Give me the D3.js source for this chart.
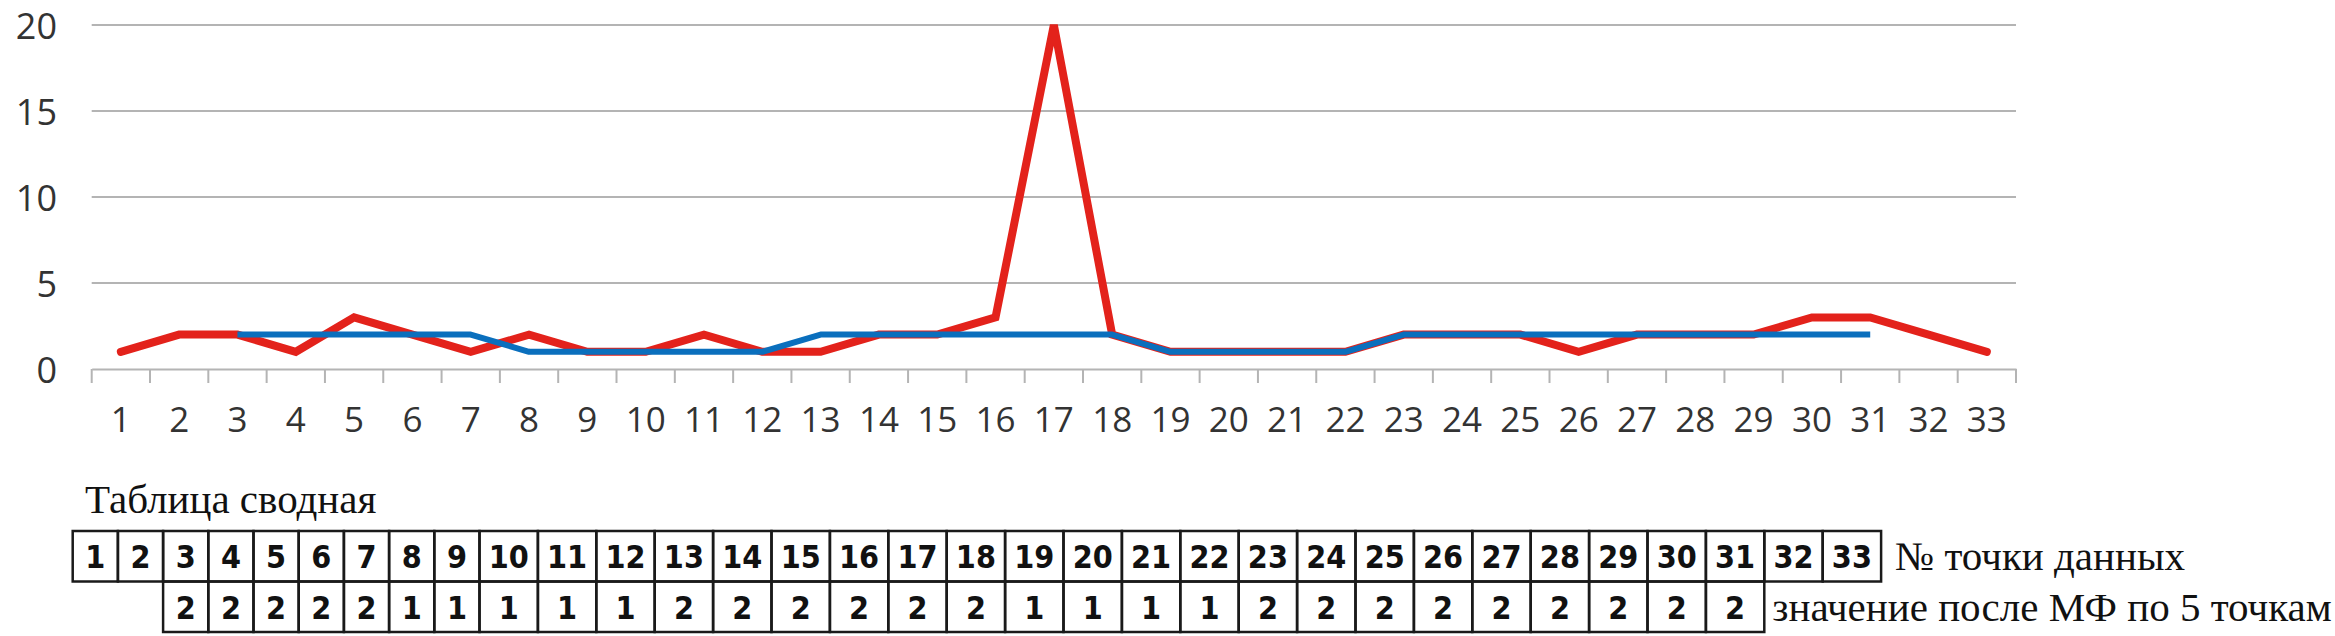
<!DOCTYPE html>
<html>
<head>
<meta charset="utf-8">
<script src="https://cdn.jsdelivr.net/npm/d3@7/dist/d3.min.js"></script>
<style>
  html, body { margin: 0; padding: 0; background: #fff; }
  svg { display: block; }
</style>
</head>
<body>
<svg id="chart" width="2335" height="636"></svg>
<script>
// ---- data ----
const categories = d3.range(1, 34).map(String); // 1..33
const rawValues = [1, 2, 2, 1, 3, 2, 1, 2, 1, 1, 2, 1, 1, 2, 2, 3, 20, 2, 1, 1, 1, 1, 2, 2, 2, 1, 2, 2, 2, 3, 3, 2, 1];
const medianStart = 3; // first data point with a median value
const medianValues = [2, 2, 2, 2, 2, 1, 1, 1, 1, 1, 2, 2, 2, 2, 2, 2, 1, 1, 1, 1, 2, 2, 2, 2, 2, 2, 2, 2, 2];
const yTicks = [0, 5, 10, 15, 20];
const tableTitle = "Таблица сводная";
const rowLabel1 = "№ точки данных";
const rowLabel2 = "значение после МФ по 5 точкам";

// ---- layout ----
const svg = d3.select("#chart");
const plot = { left: 91.7, right: 2016, top: 25, bottom: 369 };

const x = d3.scaleBand().domain(categories).range([plot.left, plot.right]).padding(0);
const y = d3.scaleLinear().domain([0, 20]).range([plot.bottom, plot.top]);

const axisFont = "'Open Sans', 'Lato', sans-serif";
const serifFont = "'Liberation Serif', 'DejaVu Serif', serif";
const tableFont = "'Liberation Sans Narrow', 'DejaVu Sans Condensed', 'Roboto', sans-serif";

// gridlines
svg.append("g")
  .selectAll("line")
  .data(yTicks.filter(d => d > 0))
  .join("line")
  .attr("x1", plot.left).attr("x2", plot.right)
  .attr("y1", d => y(d)).attr("y2", d => y(d))
  .attr("stroke", "#b4b4b4").attr("stroke-width", 2);

// y labels
svg.append("g")
  .selectAll("text")
  .data(yTicks)
  .join("text")
  .attr("x", 57).attr("y", d => y(d))
  .attr("text-anchor", "end")
  .attr("dominant-baseline", "central")
  .attr("font-family", axisFont).attr("font-size", 36)
  .attr("fill", "#333")
  .text(d => d);

// x axis
const xAxis = d3.axisBottom(x).tickSize(0).tickPadding(0);
const gx = svg.append("g").attr("transform", `translate(0,${plot.bottom})`).call(xAxis);
gx.select(".domain").attr("stroke", "#b4b4b4").attr("stroke-width", 2);
gx.selectAll(".tick text")
  .attr("font-family", axisFont).attr("font-size", 35)
  .attr("fill", "#333").attr("dy", null).attr("y", 63);
// boundary tick marks
const boundaries = categories.map(c => x(c)).concat([plot.right]);
svg.append("g")
  .selectAll("line")
  .data(boundaries)
  .join("line")
  .attr("x1", d => d).attr("x2", d => d)
  .attr("y1", plot.bottom).attr("y2", plot.bottom + 14)
  .attr("stroke", "#b4b4b4").attr("stroke-width", 2);

// lines
const line = d3.line()
  .x(d => x(d.c) + x.bandwidth() / 2)
  .y(d => y(d.v));

const rawSeries = categories.map((c, i) => ({ c, v: rawValues[i] }));
const medSeries = medianValues.map((v, i) => ({ c: categories[medianStart - 1 + i], v }));

svg.append("path")
  .datum(rawSeries)
  .attr("d", line)
  .attr("fill", "none")
  .attr("stroke", "#e3221b")
  .attr("stroke-width", 8)
  .attr("stroke-linejoin", "miter")
  .attr("stroke-linecap", "round");

svg.append("path")
  .datum(medSeries)
  .attr("d", line)
  .attr("fill", "none")
  .attr("stroke", "#0a6fbd")
  .attr("stroke-width", 6)
  .attr("stroke-linejoin", "round")
  .attr("stroke-linecap", "butt");

// ---- table ----
svg.append("text")
  .attr("x", 85).attr("y", 513)
  .attr("font-family", serifFont).attr("font-size", 41)
  .attr("fill", "#111")
  .text(tableTitle);

const tLeft = 72.7, row1Top = 531, rowH = 50.5;
const cellW = c => c.length === 1 ? 45.2 : 58.4;
let acc = tLeft;
const cells = categories.map((c, i) => {
  const w = cellW(c);
  const cell = { c, x: acc, w, med: (i + 1 >= medianStart && i + 1 < medianStart + medianValues.length) ? medianValues[i + 1 - medianStart] : null };
  acc += w;
  return cell;
});
const tRight = acc;

const tg = svg.append("g");
// row 1 cells
tg.selectAll("rect.r1")
  .data(cells)
  .join("rect")
  .attr("class", "r1")
  .attr("x", d => d.x).attr("y", row1Top)
  .attr("width", d => d.w).attr("height", rowH)
  .attr("fill", "none").attr("stroke", "#1a1a1a").attr("stroke-width", 2.5);
tg.selectAll("text.r1")
  .data(cells)
  .join("text")
  .attr("class", "r1")
  .attr("x", d => d.x + d.w / 2).attr("y", row1Top + rowH / 2 + 12)
  .attr("text-anchor", "middle")
  .attr("font-family", tableFont).attr("font-weight", "bold").attr("font-size", 32)
  .attr("fill", "#111")
  .text(d => d.c);
// row 2 cells
const medCells = cells.filter(d => d.med !== null);
tg.selectAll("rect.r2")
  .data(medCells)
  .join("rect")
  .attr("class", "r2")
  .attr("x", d => d.x).attr("y", row1Top + rowH)
  .attr("width", d => d.w).attr("height", rowH)
  .attr("fill", "none").attr("stroke", "#1a1a1a").attr("stroke-width", 2.5);
tg.selectAll("text.r2")
  .data(medCells)
  .join("text")
  .attr("class", "r2")
  .attr("x", d => d.x + d.w / 2).attr("y", row1Top + rowH * 1.5 + 12)
  .attr("text-anchor", "middle")
  .attr("font-family", tableFont).attr("font-weight", "bold").attr("font-size", 32)
  .attr("fill", "#111")
  .text(d => d.med);

// row labels
svg.append("text")
  .attr("x", tRight + 14).attr("y", row1Top + rowH / 2 + 14)
  .attr("font-family", serifFont).attr("font-size", 41)
  .attr("fill", "#111")
  .text(rowLabel1);
const lastMed = medCells[medCells.length - 1];
svg.append("text")
  .attr("x", lastMed.x + lastMed.w + 8).attr("y", row1Top + rowH * 1.5 + 14)
  .attr("font-family", serifFont).attr("font-size", 41)
  .attr("fill", "#111")
  .text(rowLabel2);
</script>
</body>
</html>
